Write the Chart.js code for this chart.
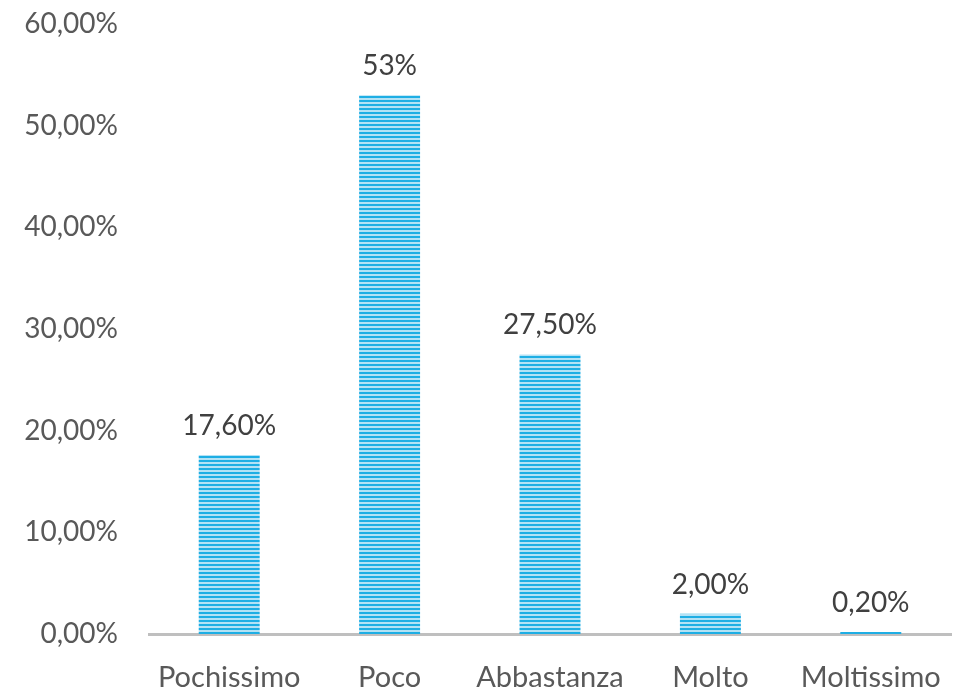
<!DOCTYPE html>
<html>
<head>
<meta charset="utf-8">
<script src="https://cdn.jsdelivr.net/npm/chart.js@4/dist/chart.umd.min.js"></script>
<style>
  html, body { margin: 0; padding: 0; background: #fff; }
  #wrap { width: 963px; height: 690px; position: relative; }
</style>
</head>
<body>
<div id="wrap"><canvas id="c" width="963" height="690"></canvas></div>
<script>
const categories = ['Pochissimo', 'Poco', 'Abbastanza', 'Molto', 'Moltissimo'];
const values = [17.6, 53, 27.5, 2.0, 0.2];
const valueLabels = ['17,60%', '53%', '27,50%', '2,00%', '0,20%'];

const FONT = 'Lato, "Open Sans", sans-serif';

function stripePattern() {
  const p = document.createElement('canvas');
  p.width = 4; p.height = 4;
  const g = p.getContext('2d');
  g.fillStyle = '#B3E2F5';
  g.fillRect(0, 0, 4, 4);
  g.fillStyle = '#1EAEE4';
  g.fillRect(0, 0, 4, 2);
  return document.getElementById('c').getContext('2d').createPattern(p, 'repeat');
}

const labelPlugin = {
  id: 'valueLabels',
  afterDatasetsDraw(chart) {
    const ctx = chart.ctx;
    const meta = chart.getDatasetMeta(0);
    ctx.save();
    ctx.font = '28px ' + FONT;
    ctx.fillStyle = '#404040';
    ctx.textAlign = 'center';
    ctx.textBaseline = 'middle';
    meta.data.forEach((bar, i) => {
      ctx.fillText(valueLabels[i], bar.x, bar.y - 29);
    });
    ctx.restore();
  }
};

new Chart(document.getElementById('c'), {
  type: 'bar',
  data: {
    labels: categories,
    datasets: [{
      data: values,
      backgroundColor: stripePattern(),
      borderWidth: 0,
      barPercentage: 0.76,
      categoryPercentage: 0.5
    }]
  },
  options: {
    responsive: false,
    animation: false,
    devicePixelRatio: 1,
    layout: { padding: { top: 24, right: 12, left: 0, bottom: 0 } },
    plugins: { legend: { display: false }, tooltip: { enabled: false } },
    scales: {
      x: {
        grid: { display: false, drawTicks: false },
        border: { display: true, color: '#BFBFBF', width: 3 },
        ticks: { color: '#595959', font: { family: FONT, size: 29 }, padding: 26 },
        afterFit(s) { s.height = 56; s.paddingLeft = 0; s.paddingRight = 0; }
      },
      y: {
        min: 0, max: 60,
        grid: { display: false, drawTicks: false },
        border: { display: false },
        ticks: {
          stepSize: 10,
          color: '#595959',
          font: { family: FONT, size: 28 },
          padding: 31,
          callback: v => v.toFixed(2).replace('.', ',') + '%'
        },
        afterFit(s) { s.width = 149; s.paddingTop = 0; s.paddingBottom = 0; }
      }
    }
  },
  plugins: [labelPlugin]
});
</script>
</body>
</html>
